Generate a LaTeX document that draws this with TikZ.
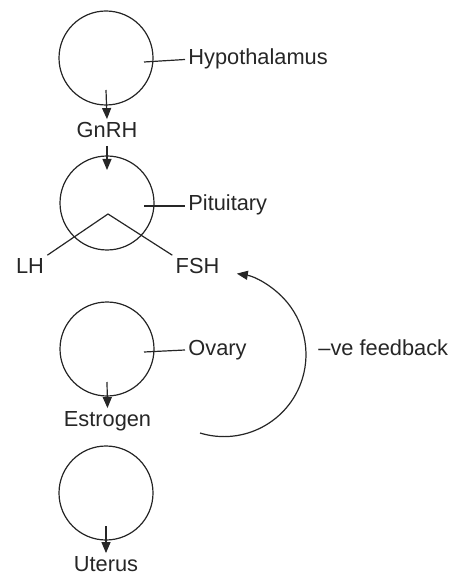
\documentclass[tikz,border=0pt]{standalone}
\usepackage{fontspec}
\setmainfont{Liberation Sans}
\usepackage{tikz}
\usetikzlibrary{arrows.meta, calc}

\begin{document}
\begin{tikzpicture}[x=0.5pt, y=-0.5pt,
        organ/.style={circle, draw=black!85, line width=0.6pt, minimum size=47pt, inner sep=0pt},
        hormone/.style={font=\fontsize{10.9}{13}\selectfont, text=black!85, text height=0.75em, text depth=0.25em, inner sep=1.5pt},
        tag/.style={hormone, anchor=west},
        flow/.style={draw=black!85, line width=0.6pt, -{Triangle[length=5.5pt, width=4.5pt]}},
        lead/.style={draw=black!85, line width=0.6pt}
    ]
        \useasboundingbox (0,0) rectangle (460,576);

        % Hypothalamus
        \node[organ] (hyp) at (106,58) {};
        \node[tag] (hyptxt) at (185,59.5) {Hypothalamus};
        \draw[lead] ($(hyp.center)+(38,4)$) -- (hyptxt.west);
        \node[hormone] (gnrh) at (107,132.5) {GnRH};
        \draw[flow] ($(hyp.center)+(0,32)$) -- (gnrh.north);

        % Pituitary
        \node[organ] (pit) at (107,203) {};
        \node[tag] (pittxt) at (185,206) {Pituitary};
        \draw[lead] ($(pit.center)+(37,3)$) -- (pittxt.west);
        \draw[flow] (gnrh.south) -- ($(pit.center)+(0,-33)$);
        \coordinate (pitpeak) at ($(pit.center)+(1,11)$);
        \node[hormone] (lh) at (30,268.6) {LH};
        \node[hormone] (fsh) at (197.5,268.6) {FSH};
        \draw[lead] (lh.north east) -- (pitpeak) -- (fsh.north west);

        % Ovary
        \node[organ] (ova) at (107,349) {};
        \node[tag] (ovatxt) at (185,350) {Ovary};
        \draw[lead] ($(ova.center)+(37,3)$) -- (ovatxt.west);
        \node[hormone] (estr) at (107.5,421.5) {Estrogen};
        \draw[flow] ($(ova.center)+(0,33)$) -- (estr.north);

        % Uterus
        \node[organ] (ute) at (106,493) {};
        \node[hormone] (utetxt) at (106,566.5) {Uterus};
        \draw[flow] ($(ute.center)+(0,33)$) -- (utetxt.north);

        % Feedback loop
        \coordinate (fbstart) at (200,433);
        \draw[flow] (fbstart) arc[start angle=-107, end angle=81, radius=41pt];
        \node[tag] (fbtxt) at (315,350) {\textendash ve feedback};

    \end{tikzpicture}
\end{document}
